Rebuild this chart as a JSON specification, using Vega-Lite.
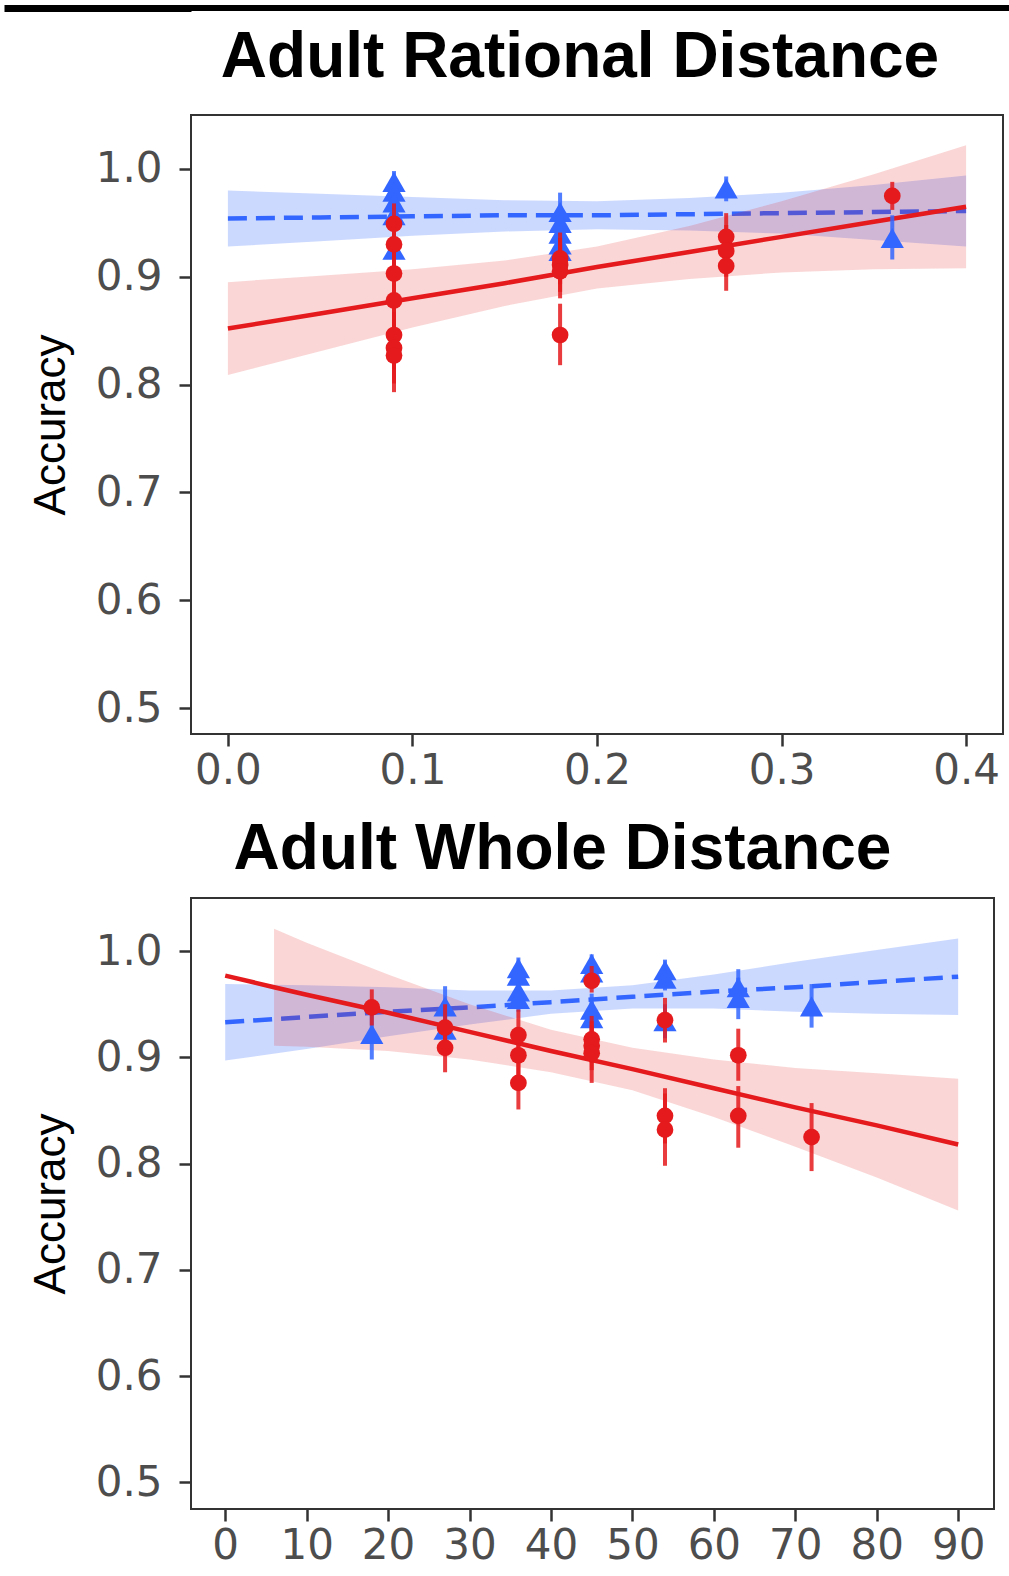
{
  "$schema": "https://vega.github.io/schema/vega-lite/v6.json",
  "padding": {"left": 0, "top": 4, "right": 0, "bottom": 0},
  "background": "white",
  "datasets": {
    "top_pts": [
      {"x": 0.09, "y": 0.988, "lo": 0.978, "hi": 0.998, "group": "Group 2"},
      {"x": 0.09, "y": 0.979, "lo": 0.967, "hi": 0.991, "group": "Group 2"},
      {"x": 0.09, "y": 0.969, "lo": 0.955, "hi": 0.983, "group": "Group 2"},
      {"x": 0.09, "y": 0.957, "lo": 0.942, "hi": 0.972, "group": "Group 2"},
      {"x": 0.09, "y": 0.925, "lo": 0.905, "hi": 0.945, "group": "Group 2"},
      {"x": 0.18, "y": 0.960, "lo": 0.943, "hi": 0.978, "group": "Group 2"},
      {"x": 0.18, "y": 0.950, "lo": 0.934, "hi": 0.966, "group": "Group 2"},
      {"x": 0.18, "y": 0.940, "lo": 0.924, "hi": 0.956, "group": "Group 2"},
      {"x": 0.18, "y": 0.930, "lo": 0.914, "hi": 0.946, "group": "Group 2"},
      {"x": 0.18, "y": 0.924, "lo": 0.908, "hi": 0.940, "group": "Group 2"},
      {"x": 0.27, "y": 0.982, "lo": 0.970, "hi": 0.993, "group": "Group 2"},
      {"x": 0.36, "y": 0.936, "lo": 0.916, "hi": 0.957, "group": "Group 2"},
      {"x": 0.09, "y": 0.949, "lo": 0.930, "hi": 0.968, "group": "Group 1"},
      {"x": 0.09, "y": 0.930, "lo": 0.906, "hi": 0.954, "group": "Group 1"},
      {"x": 0.09, "y": 0.903, "lo": 0.876, "hi": 0.930, "group": "Group 1"},
      {"x": 0.09, "y": 0.878, "lo": 0.850, "hi": 0.906, "group": "Group 1"},
      {"x": 0.09, "y": 0.846, "lo": 0.814, "hi": 0.878, "group": "Group 1"},
      {"x": 0.09, "y": 0.834, "lo": 0.801, "hi": 0.867, "group": "Group 1"},
      {"x": 0.09, "y": 0.827, "lo": 0.793, "hi": 0.861, "group": "Group 1"},
      {"x": 0.18, "y": 0.917, "lo": 0.893, "hi": 0.941, "group": "Group 1"},
      {"x": 0.18, "y": 0.911, "lo": 0.886, "hi": 0.936, "group": "Group 1"},
      {"x": 0.18, "y": 0.905, "lo": 0.880, "hi": 0.930, "group": "Group 1"},
      {"x": 0.18, "y": 0.846, "lo": 0.818, "hi": 0.875, "group": "Group 1"},
      {"x": 0.27, "y": 0.937, "lo": 0.915, "hi": 0.959, "group": "Group 1"},
      {"x": 0.27, "y": 0.924, "lo": 0.900, "hi": 0.948, "group": "Group 1"},
      {"x": 0.27, "y": 0.910, "lo": 0.887, "hi": 0.933, "group": "Group 1"},
      {"x": 0.36, "y": 0.975, "lo": 0.962, "hi": 0.988, "group": "Group 1"}
    ],
    "top_fit": [
      {"x": 0.00, "y": 0.954, "lo": 0.928, "hi": 0.980, "group": "Group 2"},
      {"x": 0.05, "y": 0.955, "lo": 0.933, "hi": 0.977, "group": "Group 2"},
      {"x": 0.10, "y": 0.956, "lo": 0.938, "hi": 0.974, "group": "Group 2"},
      {"x": 0.15, "y": 0.957, "lo": 0.942, "hi": 0.971, "group": "Group 2"},
      {"x": 0.20, "y": 0.957, "lo": 0.944, "hi": 0.970, "group": "Group 2"},
      {"x": 0.25, "y": 0.958, "lo": 0.943, "hi": 0.973, "group": "Group 2"},
      {"x": 0.30, "y": 0.959, "lo": 0.940, "hi": 0.978, "group": "Group 2"},
      {"x": 0.35, "y": 0.960, "lo": 0.934, "hi": 0.985, "group": "Group 2"},
      {"x": 0.40, "y": 0.961, "lo": 0.928, "hi": 0.994, "group": "Group 2"},
      {"x": 0.00, "y": 0.852, "lo": 0.809, "hi": 0.895, "group": "Group 1"},
      {"x": 0.05, "y": 0.866, "lo": 0.831, "hi": 0.901, "group": "Group 1"},
      {"x": 0.10, "y": 0.880, "lo": 0.853, "hi": 0.907, "group": "Group 1"},
      {"x": 0.15, "y": 0.894, "lo": 0.873, "hi": 0.915, "group": "Group 1"},
      {"x": 0.20, "y": 0.909, "lo": 0.889, "hi": 0.928, "group": "Group 1"},
      {"x": 0.25, "y": 0.923, "lo": 0.898, "hi": 0.947, "group": "Group 1"},
      {"x": 0.30, "y": 0.937, "lo": 0.904, "hi": 0.970, "group": "Group 1"},
      {"x": 0.35, "y": 0.951, "lo": 0.907, "hi": 0.995, "group": "Group 1"},
      {"x": 0.40, "y": 0.965, "lo": 0.908, "hi": 1.022, "group": "Group 1"}
    ],
    "bot_pts": [
      {"x": 18, "y": 0.922, "lo": 0.898, "hi": 0.946, "group": "Group 2"},
      {"x": 27, "y": 0.948, "lo": 0.930, "hi": 0.967, "group": "Group 2"},
      {"x": 27, "y": 0.926, "lo": 0.912, "hi": 0.940, "group": "Group 2"},
      {"x": 36, "y": 0.984, "lo": 0.974, "hi": 0.994, "group": "Group 2"},
      {"x": 36, "y": 0.977, "lo": 0.967, "hi": 0.987, "group": "Group 2"},
      {"x": 36, "y": 0.962, "lo": 0.950, "hi": 0.974, "group": "Group 2"},
      {"x": 36, "y": 0.955, "lo": 0.943, "hi": 0.967, "group": "Group 2"},
      {"x": 45, "y": 0.988, "lo": 0.979, "hi": 0.997, "group": "Group 2"},
      {"x": 45, "y": 0.980, "lo": 0.970, "hi": 0.990, "group": "Group 2"},
      {"x": 45, "y": 0.945, "lo": 0.930, "hi": 0.960, "group": "Group 2"},
      {"x": 45, "y": 0.937, "lo": 0.922, "hi": 0.952, "group": "Group 2"},
      {"x": 54, "y": 0.982, "lo": 0.972, "hi": 0.992, "group": "Group 2"},
      {"x": 54, "y": 0.974, "lo": 0.963, "hi": 0.985, "group": "Group 2"},
      {"x": 54, "y": 0.934, "lo": 0.918, "hi": 0.950, "group": "Group 2"},
      {"x": 63, "y": 0.966, "lo": 0.947, "hi": 0.983, "group": "Group 2"},
      {"x": 63, "y": 0.956, "lo": 0.936, "hi": 0.975, "group": "Group 2"},
      {"x": 72, "y": 0.948, "lo": 0.928, "hi": 0.969, "group": "Group 2"},
      {"x": 18, "y": 0.947, "lo": 0.930, "hi": 0.964, "group": "Group 1"},
      {"x": 27, "y": 0.928, "lo": 0.906, "hi": 0.950, "group": "Group 1"},
      {"x": 27, "y": 0.909, "lo": 0.886, "hi": 0.932, "group": "Group 1"},
      {"x": 36, "y": 0.921, "lo": 0.897, "hi": 0.945, "group": "Group 1"},
      {"x": 36, "y": 0.902, "lo": 0.877, "hi": 0.927, "group": "Group 1"},
      {"x": 36, "y": 0.876, "lo": 0.851, "hi": 0.901, "group": "Group 1"},
      {"x": 45, "y": 0.972, "lo": 0.961, "hi": 0.986, "group": "Group 1"},
      {"x": 45, "y": 0.917, "lo": 0.895, "hi": 0.939, "group": "Group 1"},
      {"x": 45, "y": 0.911, "lo": 0.888, "hi": 0.934, "group": "Group 1"},
      {"x": 45, "y": 0.904, "lo": 0.876, "hi": 0.930, "group": "Group 1"},
      {"x": 54, "y": 0.935, "lo": 0.914, "hi": 0.956, "group": "Group 1"},
      {"x": 54, "y": 0.845, "lo": 0.819, "hi": 0.871, "group": "Group 1"},
      {"x": 54, "y": 0.832, "lo": 0.798, "hi": 0.866, "group": "Group 1"},
      {"x": 63, "y": 0.902, "lo": 0.878, "hi": 0.927, "group": "Group 1"},
      {"x": 63, "y": 0.845, "lo": 0.815, "hi": 0.873, "group": "Group 1"},
      {"x": 72, "y": 0.825, "lo": 0.793, "hi": 0.857, "group": "Group 1"}
    ],
    "bot_fit": [
      {"x": 0, "y": 0.933, "lo": 0.897, "hi": 0.969, "group": "Group 2"},
      {"x": 10, "y": 0.938, "lo": 0.908, "hi": 0.968, "group": "Group 2"},
      {"x": 20, "y": 0.943, "lo": 0.920, "hi": 0.966, "group": "Group 2"},
      {"x": 30, "y": 0.947, "lo": 0.931, "hi": 0.963, "group": "Group 2"},
      {"x": 40, "y": 0.952, "lo": 0.941, "hi": 0.963, "group": "Group 2"},
      {"x": 50, "y": 0.957, "lo": 0.946, "hi": 0.968, "group": "Group 2"},
      {"x": 60, "y": 0.962, "lo": 0.946, "hi": 0.978, "group": "Group 2"},
      {"x": 70, "y": 0.966, "lo": 0.943, "hi": 0.990, "group": "Group 2"},
      {"x": 80, "y": 0.971, "lo": 0.941, "hi": 1.001, "group": "Group 2"},
      {"x": 90, "y": 0.976, "lo": 0.940, "hi": 1.012, "group": "Group 2"},
      {"x": 0, "y": 0.977, "lo": null, "hi": null, "group": "Group 1"},
      {"x": 6, "y": 0.966, "lo": 0.911, "hi": 1.021, "group": "Group 1"},
      {"x": 10, "y": 0.959, "lo": 0.910, "hi": 1.008, "group": "Group 1"},
      {"x": 20, "y": 0.942, "lo": 0.906, "hi": 0.978, "group": "Group 1"},
      {"x": 30, "y": 0.924, "lo": 0.898, "hi": 0.950, "group": "Group 1"},
      {"x": 40, "y": 0.906, "lo": 0.886, "hi": 0.926, "group": "Group 1"},
      {"x": 50, "y": 0.889, "lo": 0.869, "hi": 0.909, "group": "Group 1"},
      {"x": 60, "y": 0.871, "lo": 0.844, "hi": 0.898, "group": "Group 1"},
      {"x": 70, "y": 0.853, "lo": 0.816, "hi": 0.890, "group": "Group 1"},
      {"x": 80, "y": 0.836, "lo": 0.787, "hi": 0.885, "group": "Group 1"},
      {"x": 90, "y": 0.818, "lo": 0.756, "hi": 0.880, "group": "Group 1"}
    ],
    "frame_line": [{"v": 0}]
  },
  "columns": 1,
  "align": "none",
  "spacing": 13,
  "concat": [
    {
      "width": 822,
      "height": 6,
      "view": {"fill": "#000000", "stroke": null},
      "data": {"name": "frame_line"},
      "mark": {"type": "rule", "color": "#000000", "strokeWidth": 6},
      "encoding": {
        "y": {"field": "v", "type": "quantitative", "scale": {"domain": [-1, 1]},
              "axis": {"values": [0], "labels": false, "title": null, "domain": false, "tickSize": 187, "tickWidth": 7, "tickColor": "#000000", "tickOffset": 0, "tickRound": false}}
      }
    },
    {
      "spacing": 25,
      "vconcat": [
        {
          "width": 812,
          "height": 619,
          "title": {"text": "Adult Rational Distance", "dx": -17, "offset": 25},
          "encoding": {
            "x": {"field": "x", "type": "quantitative", "scale": {"domain": [-0.02, 0.42], "nice": false, "zero": false},
                  "axis": {"values": [0, 0.1, 0.2, 0.3, 0.4], "format": ".1f", "title": null}},
            "y": {"field": "y", "type": "quantitative", "title": "Accuracy", "scale": {"domain": [0.476, 1.05], "nice": false, "zero": false},
                  "axis": {"values": [0.5, 0.6, 0.7, 0.8, 0.9, 1.0], "format": ".1f"}}
          },
          "layer": [
            {"data": {"name": "top_fit"}, "transform": [{"filter": "datum.group === 'Group 2'"}],
             "mark": {"type": "area", "color": "#3366FF", "opacity": 0.25},
             "encoding": {"y": {"field": "lo", "type": "quantitative", "title": "Accuracy", "scale": {"domain": [0.476, 1.05], "nice": false, "zero": false}, "axis": {"values": [0.5, 0.6, 0.7, 0.8, 0.9, 1.0], "format": ".1f"}}, "y2": {"field": "hi"}}},
            {"data": {"name": "top_fit"}, "transform": [{"filter": "datum.group === 'Group 2'"}],
             "mark": {"type": "line", "color": "#3366FF", "strokeWidth": 4.5, "strokeDash": [19, 9]}},
            {"data": {"name": "top_fit"}, "transform": [{"filter": "datum.group === 'Group 1'"}],
             "mark": {"type": "area", "color": "#E41A1C", "opacity": 0.18},
             "encoding": {"y": {"field": "lo", "type": "quantitative", "title": "Accuracy", "scale": {"domain": [0.476, 1.05], "nice": false, "zero": false}, "axis": {"values": [0.5, 0.6, 0.7, 0.8, 0.9, 1.0], "format": ".1f"}}, "y2": {"field": "hi"}}},
            {"data": {"name": "top_fit"}, "transform": [{"filter": "datum.group === 'Group 1'"}],
             "mark": {"type": "line", "color": "#E41A1C", "strokeWidth": 4.5}},
            {"data": {"name": "top_pts"}, "transform": [{"filter": "datum.group === 'Group 2'"}],
             "mark": {"type": "rule", "color": "#3366FF", "strokeWidth": 4, "opacity": 0.85},
             "encoding": {"y": {"field": "lo", "type": "quantitative", "title": "Accuracy", "scale": {"domain": [0.476, 1.05], "nice": false, "zero": false}, "axis": {"values": [0.5, 0.6, 0.7, 0.8, 0.9, 1.0], "format": ".1f"}}, "y2": {"field": "hi"}}},
            {"data": {"name": "top_pts"}, "transform": [{"filter": "datum.group === 'Group 2'"}],
             "mark": {"type": "point", "shape": "triangle-up", "filled": true, "size": 540, "color": "#3366FF", "opacity": 1}},
            {"data": {"name": "top_pts"}, "transform": [{"filter": "datum.group === 'Group 1'"}],
             "mark": {"type": "rule", "color": "#E41A1C", "strokeWidth": 4, "opacity": 0.85},
             "encoding": {"y": {"field": "lo", "type": "quantitative", "title": "Accuracy", "scale": {"domain": [0.476, 1.05], "nice": false, "zero": false}, "axis": {"values": [0.5, 0.6, 0.7, 0.8, 0.9, 1.0], "format": ".1f"}}, "y2": {"field": "hi"}}},
            {"data": {"name": "top_pts"}, "transform": [{"filter": "datum.group === 'Group 1'"}],
             "mark": {"type": "point", "shape": "circle", "filled": true, "size": 280, "color": "#E41A1C", "opacity": 1}}
          ]
        },
        {
          "width": 803,
          "height": 611,
          "title": {"text": "Adult Whole Distance", "dx": -30, "offset": 16},
          "encoding": {
            "x": {"field": "x", "type": "quantitative", "scale": {"domain": [-4.2, 94.4], "nice": false, "zero": false},
                  "axis": {"values": [0, 10, 20, 30, 40, 50, 60, 70, 80, 90], "format": "d", "title": null}},
            "y": {"field": "y", "type": "quantitative", "title": "Accuracy", "scale": {"domain": [0.475, 1.05], "nice": false, "zero": false},
                  "axis": {"values": [0.5, 0.6, 0.7, 0.8, 0.9, 1.0], "format": ".1f"}}
          },
          "layer": [
            {"data": {"name": "bot_fit"}, "transform": [{"filter": "datum.group === 'Group 2'"}],
             "mark": {"type": "area", "color": "#3366FF", "opacity": 0.25},
             "encoding": {"y": {"field": "lo", "type": "quantitative", "title": "Accuracy", "scale": {"domain": [0.475, 1.05], "nice": false, "zero": false}, "axis": {"values": [0.5, 0.6, 0.7, 0.8, 0.9, 1.0], "format": ".1f"}}, "y2": {"field": "hi"}}},
            {"data": {"name": "bot_fit"}, "transform": [{"filter": "datum.group === 'Group 2'"}],
             "mark": {"type": "line", "color": "#3366FF", "strokeWidth": 4.5, "strokeDash": [19, 9]}},
            {"data": {"name": "bot_fit"}, "transform": [{"filter": "datum.group === 'Group 1'"}, {"filter": {"field": "lo", "valid": true}}],
             "mark": {"type": "area", "color": "#E41A1C", "opacity": 0.18},
             "encoding": {"y": {"field": "lo", "type": "quantitative", "title": "Accuracy", "scale": {"domain": [0.475, 1.05], "nice": false, "zero": false}, "axis": {"values": [0.5, 0.6, 0.7, 0.8, 0.9, 1.0], "format": ".1f"}}, "y2": {"field": "hi"}}},
            {"data": {"name": "bot_fit"}, "transform": [{"filter": "datum.group === 'Group 1'"}],
             "mark": {"type": "line", "color": "#E41A1C", "strokeWidth": 4.5}},
            {"data": {"name": "bot_pts"}, "transform": [{"filter": "datum.group === 'Group 2'"}],
             "mark": {"type": "rule", "color": "#3366FF", "strokeWidth": 4, "opacity": 0.85},
             "encoding": {"y": {"field": "lo", "type": "quantitative", "title": "Accuracy", "scale": {"domain": [0.475, 1.05], "nice": false, "zero": false}, "axis": {"values": [0.5, 0.6, 0.7, 0.8, 0.9, 1.0], "format": ".1f"}}, "y2": {"field": "hi"}}},
            {"data": {"name": "bot_pts"}, "transform": [{"filter": "datum.group === 'Group 2'"}],
             "mark": {"type": "point", "shape": "triangle-up", "filled": true, "size": 540, "color": "#3366FF", "opacity": 1}},
            {"data": {"name": "bot_pts"}, "transform": [{"filter": "datum.group === 'Group 1'"}],
             "mark": {"type": "rule", "color": "#E41A1C", "strokeWidth": 4, "opacity": 0.85},
             "encoding": {"y": {"field": "lo", "type": "quantitative", "title": "Accuracy", "scale": {"domain": [0.475, 1.05], "nice": false, "zero": false}, "axis": {"values": [0.5, 0.6, 0.7, 0.8, 0.9, 1.0], "format": ".1f"}}, "y2": {"field": "hi"}}},
            {"data": {"name": "bot_pts"}, "transform": [{"filter": "datum.group === 'Group 1'"}],
             "mark": {"type": "point", "shape": "circle", "filled": true, "size": 280, "color": "#E41A1C", "opacity": 1}}
          ]
        }
      ]
    }
  ],
  "config": {
    "view": {"stroke": "#333333", "strokeWidth": 2},
    "axis": {"domain": false, "grid": false, "tickColor": "#333333", "tickWidth": 2.5, "tickSize": 12,
             "labelFont": "DejaVu Sans", "labelFontSize": 42, "labelColor": "#4d4d4d",
             "labelOverlap": false, "labelFlush": false, "labelBound": false,
             "titleFont": "Liberation Sans", "titleFontSize": 44, "titleFontWeight": "normal", "titleColor": "#000000"},
    "axisX": {"labelPadding": 4},
    "axisY": {"labelPadding": 17, "titlePadding": 22},
    "title": {"font": "Liberation Sans", "fontSize": 64, "fontWeight": "bold", "color": "#000000", "anchor": "middle", "frame": "group"}
  }
}
